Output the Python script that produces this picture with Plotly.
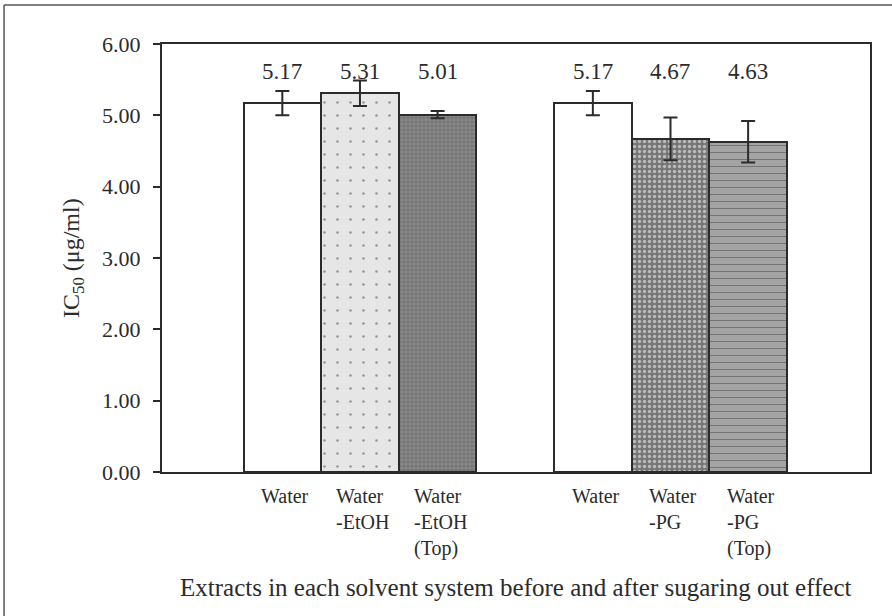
import plotly.graph_objects as go

# IC50 of extracts before / after the sugaring-out step
categories = ["Water", "Water<br>-EtOH", "Water<br>-EtOH<br>(Top)",
              "Water", "Water<br>-PG", "Water<br>-PG<br>(Top)"]
positions = [1, 2, 3, 5, 6, 7]
ic50 = [5.17, 5.31, 5.01, 5.17, 4.67, 4.63]
ic50_sd = [0.17, 0.18, 0.05, 0.17, 0.30, 0.29]
y_ticks = [0, 1, 2, 3, 4, 5, 6]

x_title = "Extracts in each solvent system before and after sugaring out effect"
y_title = "IC<sub>50</sub> (μg/ml)"

SERIF = "Liberation Serif, Times New Roman, serif"
INK = "#2b2b2b"

# fills: plain, light dotted, gray grid, dark mottled, gray ruled
fill_color = ["white", "#e6e6e6", "#8a8a8a", "white", "#767676", "#a4a4a4"]
pat_shape = ["", ".", "+", "", ".", "-"]
pat_bg = ["white", "#e6e6e6", "#7e7e7e", "white", "#6a6a6a", "#a6a6a6"]
pat_fg = ["white", "#6a6a6a", "#a6a6a6", "white", "#949494", "#8c8c8c"]
pat_size = [6, 13, 4, 6, 5, 7]
pat_solid = [0.1, 0.03, 0.3, 0.1, 0.35, 0.15]

fig = go.Figure()
fig.add_trace(go.Bar(
    x=positions, y=ic50, width=1.0,
    marker=dict(
        color=fill_color,
        line=dict(color=INK, width=2),
        pattern=dict(shape=pat_shape, bgcolor=pat_bg, fgcolor=pat_fg,
                     size=pat_size, solidity=pat_solid),
    ),
    error_y=dict(type="data", array=ic50_sd, color=INK, thickness=2, width=7),
    showlegend=False, hoverinfo="skip",
))

# value labels in a row above the bars
for xp, v in zip(positions, ic50):
    fig.add_annotation(x=xp, y=5.61, xref="x", yref="y", text=f"{v:.2f}",
                       showarrow=False, yanchor="middle",
                       font=dict(family=SERIF, size=23, color=INK))

# category labels under each bar
for xp, lab in zip(positions, categories):
    fig.add_annotation(x=xp, y=-0.026, xref="x", yref="paper", text=lab,
                       showarrow=False, yanchor="top", xanchor="center",
                       align="left", xshift=3,
                       font=dict(family=SERIF, size=20, color=INK))

fig.add_annotation(x=0.5, y=-0.271, xref="paper", yref="paper", text=x_title,
                   showarrow=False, yanchor="middle",
                   font=dict(family=SERIF, size=25, color=INK))
fig.add_annotation(x=-0.1257, y=0.5, xref="paper", yref="paper", text=y_title,
                   showarrow=False, textangle=-90, xanchor="center",
                   yanchor="middle",
                   font=dict(family=SERIF, size=24, color=INK))

# outer frame around the whole figure
fx, fy = -0.2231, 1.0911
fig.add_shape(type="line", xref="paper", yref="paper", x0=fx, y0=fy, x1=1.1,
              y1=fy, line=dict(color="#555", width=1.5))
fig.add_shape(type="line", xref="paper", yref="paper", x0=fx, y0=fy, x1=fx,
              y1=-0.5, line=dict(color="#555", width=1.5))

fig.update_layout(
    width=892, height=616,
    margin=dict(l=162, r=22, t=44, b=144),
    paper_bgcolor="white", plot_bgcolor="white",
    bargap=0,
    xaxis=dict(range=[-0.55, 8.57], showgrid=False, zeroline=False,
               showticklabels=False, ticks="", showline=True, mirror=True,
               linecolor=INK, linewidth=2),
    yaxis=dict(range=[0, 6], tickvals=y_ticks, tickformat=".2f",
               showgrid=False, zeroline=False, ticks="outside", ticklen=7,
               tickwidth=1.5, tickcolor=INK, showline=True, mirror=True,
               linecolor=INK, linewidth=2, ticklabelstandoff=8,
               tickfont=dict(family=SERIF, size=22, color=INK)),
)

fig.write_html("out.html")
